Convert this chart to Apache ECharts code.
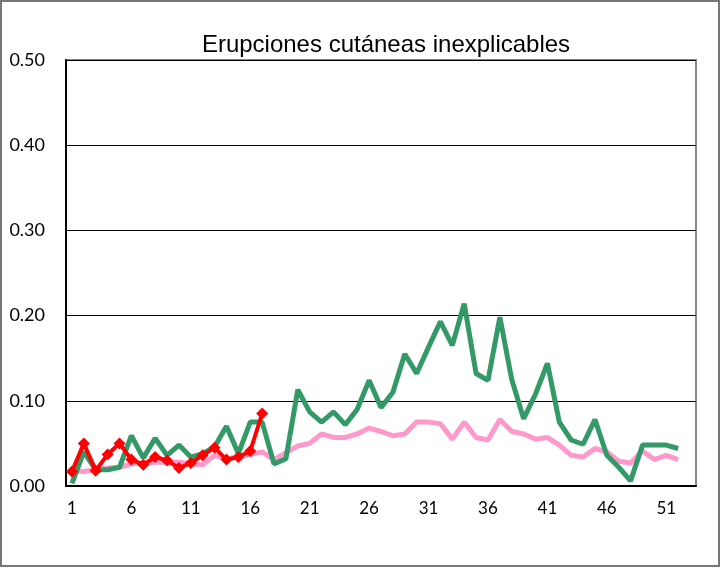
<!DOCTYPE html>
<html>
<head>
<meta charset="utf-8">
<script src="https://cdn.jsdelivr.net/npm/echarts@6/dist/echarts.min.js"></script>
<style>
  html, body { margin: 0; padding: 0; background: #fff; }
  #frame { position: absolute; left: 0; top: 0; width: 716px; height: 563px; border: 2px solid #777; }
  #chart { position: absolute; left: 0; top: 0; width: 724px; height: 568px; }
</style>
</head>
<body>
<div id="frame"></div>
<div id="chart"></div>
<script>
// semanas 1..53 (la 53 queda vacía)
const weeks = Array.from({ length: 53 }, (_, i) => String(i + 1))

const greenValues = [
  0.003, 0.040, 0.019, 0.019, 0.022, 0.059, 0.033, 0.056, 0.036, 0.048,
  0.034, 0.038, 0.046, 0.070, 0.038, 0.075, 0.075, 0.026, 0.032, 0.113,
  0.087, 0.075, 0.087, 0.072, 0.090, 0.124, 0.092, 0.110, 0.155, 0.132,
  0.163, 0.193, 0.165, 0.214, 0.132, 0.124, 0.198, 0.125, 0.079, 0.108,
  0.144, 0.075, 0.054, 0.049, 0.078, 0.036, 0.022, 0.006, 0.048, 0.048,
  0.048, 0.044
]

const pinkValues = [
  0.018, 0.017, 0.019, 0.021, 0.022, 0.026, 0.027, 0.028, 0.028, 0.028,
  0.026, 0.025, 0.036, 0.032, 0.034, 0.037, 0.040, 0.031, 0.039, 0.047,
  0.050, 0.061, 0.057, 0.057, 0.061, 0.068, 0.064, 0.059, 0.061, 0.075,
  0.075, 0.073, 0.055, 0.075, 0.057, 0.054, 0.078, 0.064, 0.061, 0.055,
  0.057, 0.048, 0.036, 0.034, 0.044, 0.040, 0.029, 0.027, 0.041, 0.031,
  0.036, 0.031
]

const redValues = [
  0.017, 0.050, 0.018, 0.037, 0.050, 0.031, 0.025, 0.034, 0.030, 0.021,
  0.027, 0.036, 0.045, 0.031, 0.034, 0.041, 0.085
]

const chart = echarts.init(document.getElementById('chart'))
chart.setOption({
  animation: false,
  title: {
    text: 'Erupciones cutáneas inexplicables',
    left: 381,
    textAlign: 'center',
    top: 28,
    textStyle: { fontFamily: 'Liberation Sans', fontWeight: 'normal', fontSize: 24, color: '#000' }
  },
  grid: {
    left: 66, right: 28, top: 60, bottom: 82,
    show: true, borderColor: '#888', borderWidth: 2
  },
  xAxis: {
    type: 'category',
    data: weeks,
    boundaryGap: true,
    axisLine: { lineStyle: { color: '#000', width: 2 } },
    axisTick: { interval: 4, length: 5, lineStyle: { color: '#000' } },
    axisLabel: { interval: 4, margin: 14, fontFamily: 'Lato', fontSize: 17, color: '#000' }
  },
  yAxis: {
    type: 'value',
    min: 0, max: 0.5, interval: 0.1,
    axisLine: { show: true, lineStyle: { color: '#000', width: 2 } },
    axisTick: { show: false },
    axisLabel: { margin: 21, fontFamily: 'Lato', fontSize: 18, color: '#000', formatter: v => v.toFixed(2) },
    splitLine: { lineStyle: { color: '#000', width: 1 } }
  },
  series: [
    {
      type: 'line', data: pinkValues, symbol: 'none',
      lineStyle: { color: '#FF99CC', width: 5 }
    },
    {
      type: 'line', data: greenValues, symbol: 'none',
      lineStyle: { color: '#339966', width: 5 }
    },
    {
      type: 'line', data: redValues, symbol: 'diamond', symbolSize: 12,
      showAllSymbol: true,
      itemStyle: { color: '#FF0000' },
      lineStyle: { color: '#FF0000', width: 4 }
    }
  ]
})
</script>
</body>
</html>
